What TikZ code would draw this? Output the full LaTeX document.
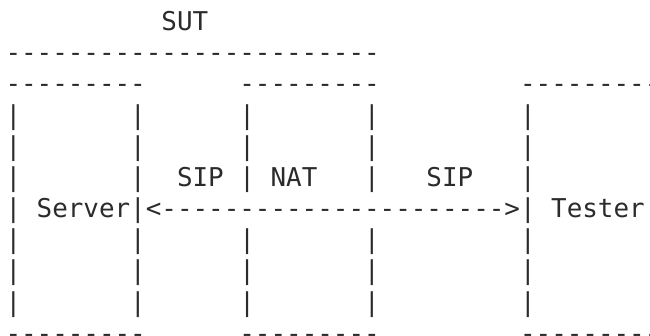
\documentclass[tikz,border=0pt]{standalone}
\usepackage{fontspec}
\setmonofont{DejaVu Sans Mono}
\definecolor{ink}{HTML}{2B2B2B}
\tikzset{
  asciiline/.style={anchor=base west, inner sep=0pt, outer sep=0pt,
    font=\ttfamily\fontsize{25.9pt}{31pt}\selectfont, text=ink}
}
\begin{document}
\begin{tikzpicture}[x=1pt,y=1pt]
\useasboundingbox (0,0) rectangle (650,-335);
\clip (0,0) rectangle (650,-335);
\def\bx{5.5}
\node[asciiline] (l0)  at (\bx,-30.4)  {~~~~~~~~~~SUT};
\node[asciiline] (l1)  at (\bx,-61.6)  {------------------------};
\node[asciiline] (l2)  at (\bx,-92.8)  {---------~~~~~~---------~~~~~~~~~---------};
\node[asciiline] (l3)  at (\bx,-124.0) {|~~~~~~~|~~~~~~|~~~~~~~|~~~~~~~~~|};
\node[asciiline] (l4)  at (\bx,-155.1) {|~~~~~~~|~~~~~~|~~~~~~~|~~~~~~~~~|};
\node[asciiline] (l5)  at (\bx,-186.3) {|~~~~~~~|~~SIP~|~NAT~~~|~~~SIP~~~|};
\node[asciiline] (l6)  at (\bx,-217.5) {|~Server|<---------------------->|~Tester};
\node[asciiline] (l7)  at (\bx,-248.7) {|~~~~~~~|~~~~~~|~~~~~~~|~~~~~~~~~|};
\node[asciiline] (l8)  at (\bx,-279.9) {|~~~~~~~|~~~~~~|~~~~~~~|~~~~~~~~~|};
\node[asciiline] (l9)  at (\bx,-311.1) {|~~~~~~~|~~~~~~|~~~~~~~|~~~~~~~~~|};
\node[asciiline] (l10) at (\bx,-342.3) {---------~~~~~~---------~~~~~~~~~---------};
\end{tikzpicture}
\end{document}
